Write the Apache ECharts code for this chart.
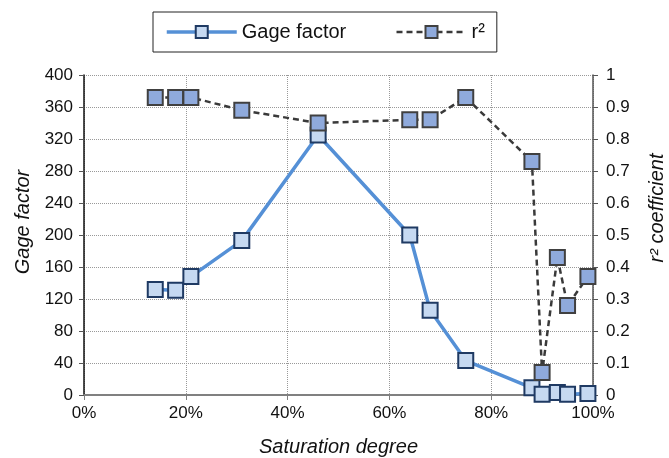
<!DOCTYPE html>
<html>
<head>
<meta charset="utf-8">
<script src="https://cdn.jsdelivr.net/npm/echarts@6/dist/echarts.min.js"></script>
<style>
  html, body { margin: 0; padding: 0; background: #fff; }
  #chart { width: 669px; height: 458px; }
</style>
</head>
<body>
<div id="chart"></div>
<script>
// saturation degree (%)
const saturation = [14, 18, 21, 31, 46, 64, 68, 75, 88, 90, 93, 95, 99];
const gageFactor = [132, 131, 148, 193, 325, 200, 106, 43, 9, 1, 3, 1, 2];
const r2 = [0.93, 0.93, 0.93, 0.89, 0.85, 0.86, 0.86, 0.93, 0.73, 0.07, 0.43, 0.28, 0.37];

const font = '"Liberation Sans", Arial, sans-serif';

const myChart = echarts.init(document.getElementById('chart'));

const option = {
  animation: false,
  textStyle: { fontFamily: font },
  legend: {
    left: 153,
    top: 12,
    padding: [10, 12],
    itemGap: 49,
    itemWidth: 70,
    itemHeight: 15,
    borderColor: '#222',
    borderWidth: 1,
    textStyle: { fontSize: 20, color: '#111', fontFamily: font },
    data: [
      { name: 'Gage factor', lineStyle: { width: 3.5 } },
      { name: 'r²', lineStyle: { width: 2.5 } }
    ]
  },
  grid: { left: 84, right: 76, top: 75, bottom: 63, outerBoundsMode: 'none', containLabel: false },
  xAxis: {
    type: 'value',
    min: 0,
    max: 100,
    interval: 20,
    name: 'Saturation degree',
    nameLocation: 'middle',
    nameGap: 42,
    nameTextStyle: { fontSize: 20, fontStyle: 'italic', color: '#111' },
    axisLine: { lineStyle: { color: '#808080', width: 2 } },
    axisTick: { show: true, length: 5, lineStyle: { color: '#808080' } },
    axisLabel: { formatter: '{value}%', fontSize: 17, color: '#111', margin: 10 },
    splitLine: { show: true, lineStyle: { color: '#999', type: 'dotted' } }
  },
  yAxis: [
    {
      type: 'value',
      min: 0,
      max: 400,
      interval: 40,
      name: 'Gage factor',
      nameLocation: 'middle',
      nameGap: 50,
      nameTextStyle: { fontSize: 20, fontStyle: 'italic', color: '#111', padding: [0, 0, 0, 26] },
      axisLine: { show: true, lineStyle: { color: '#111', width: 1.5 } },
      axisTick: { show: true, length: 5, lineStyle: { color: '#555' } },
      axisLabel: { fontSize: 17, color: '#111', margin: 11 },
      splitLine: { show: true, lineStyle: { color: '#999', type: 'dotted' } }
    },
    {
      type: 'value',
      min: 0,
      max: 1,
      interval: 0.1,
      name: 'r² coefficient',
      nameLocation: 'middle',
      nameGap: 54,
      nameTextStyle: { fontSize: 20, fontStyle: 'italic', color: '#111', padding: [0, 0, 0, 54] },
      axisLine: { show: true, lineStyle: { color: '#555', width: 1.5 } },
      axisTick: { show: true, length: 5, lineStyle: { color: '#555' } },
      axisLabel: { fontSize: 17, color: '#111', margin: 13 },
      splitLine: { show: false }
    }
  ],
  series: [
    {
      name: 'Gage factor',
      type: 'line',
      yAxisIndex: 0,
      symbol: 'rect',
      symbolSize: 15,
      lineStyle: { color: '#5590d6', width: 3.5 },
      itemStyle: { color: '#c6d9f1', borderColor: '#1f3a63', borderWidth: 2 },
      data: saturation.map((s, i) => [s, gageFactor[i]])
    },
    {
      name: 'r²',
      type: 'line',
      yAxisIndex: 1,
      symbol: 'rect',
      symbolSize: 15,
      lineStyle: { color: '#3a3a3a', width: 2.5, type: [6, 4] },
      itemStyle: { color: '#8faadc', borderColor: '#404040', borderWidth: 2 },
      data: saturation.map((s, i) => [s, r2[i]])
    }
  ]
};

myChart.setOption(option);
</script>
</body>
</html>
